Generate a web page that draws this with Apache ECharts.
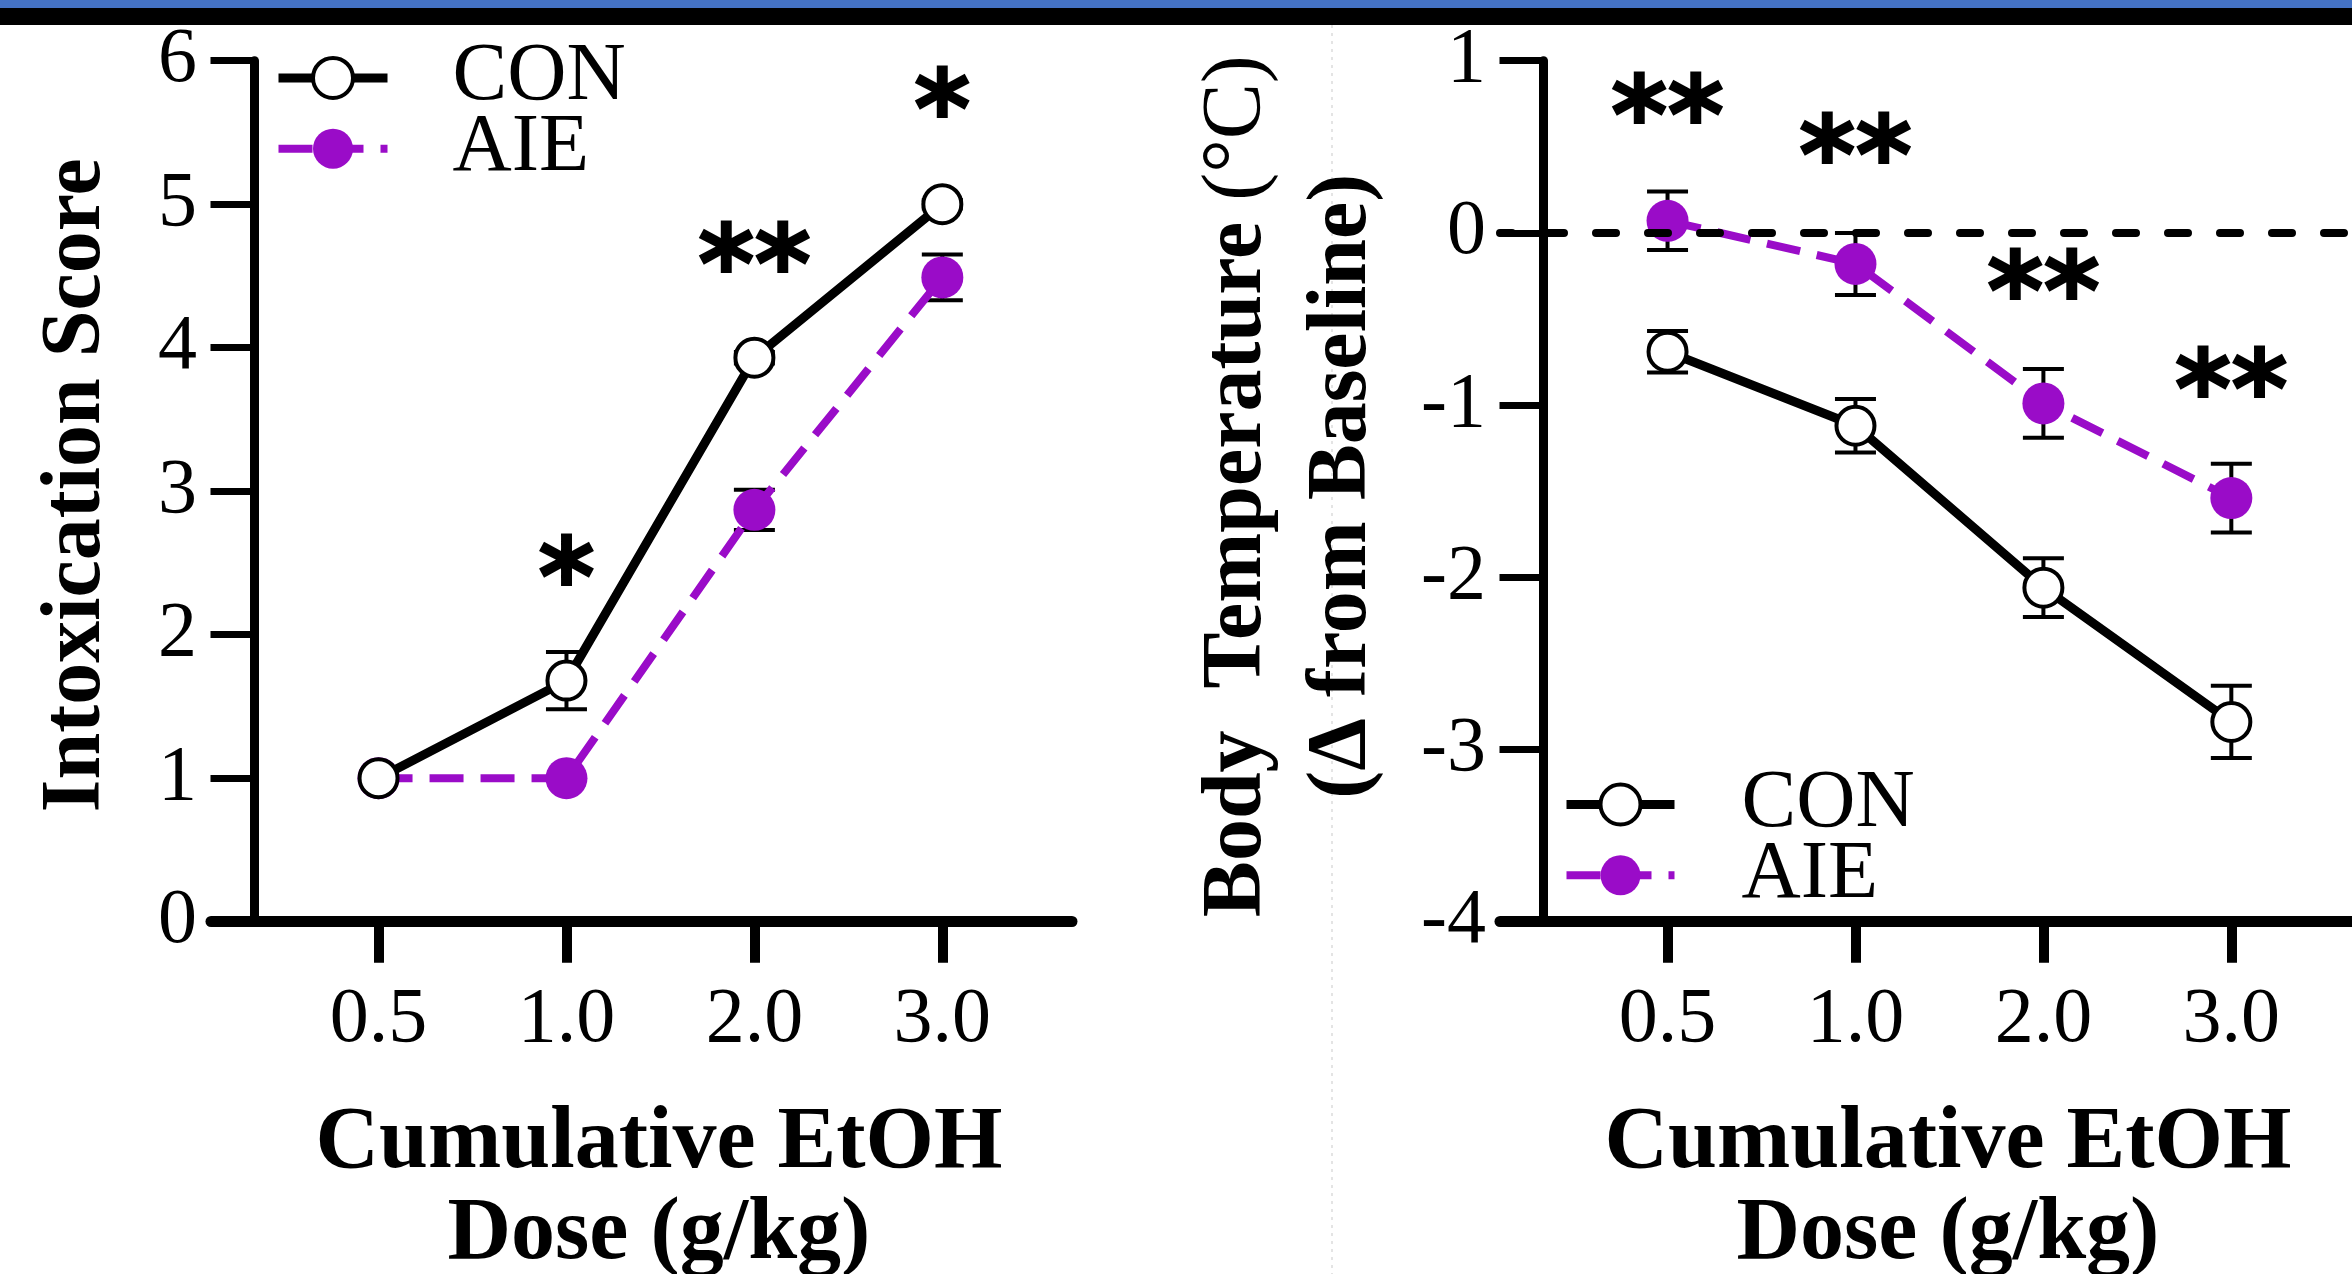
<!DOCTYPE html>
<html><head><meta charset="utf-8">
<script src="https://cdn.jsdelivr.net/npm/echarts@6/dist/echarts.min.js"></script>
<style>html,body{margin:0;padding:0;background:#fff}#c{width:2352px;height:1274px}</style>
</head><body><div id="c"></div>
<script>
// ---- data ----
const doses = ['0.5', '1.0', '2.0', '3.0'];
const intoxCON = [1.0, 1.68, 3.93, 5.0];
const intoxCONerr = [0, 0.2, 0.04, 0.03];
const intoxAIE = [1.0, 1.0, 2.87, 4.49];
const intoxAIEerr = [0, 0, 0.14, 0.16];
const tempCON = [-0.69, -1.12, -2.06, -2.84];
const tempCONerr = [0.12, 0.155, 0.17, 0.21];
const tempAIE = [0.07, -0.18, -0.99, -1.54];
const tempAIEerr = [0.17, 0.18, 0.2, 0.2];
const intoxSig = ['', '*', '**', '*'];
const intoxSigY = [null, 2.51, 4.69, 5.77];
const tempSig = ['**', '**', '**', '**'];
const tempSigY = [0.77, 0.54, -0.25, -0.82];
const groups = ['CON', 'AIE'];

const PURPLE = '#9a0cc8';
const SERIF = 'Liberation Serif';
const chart = echarts.init(document.getElementById('c'), null, {renderer: 'canvas'});

function pts(v) { return v.map((y, i) => [i, y]); }
function errPts(v, e) { return v.map((y, i) => [i, y, e[i]]); }
function errSeries(ai, data) {
  return {
    type: 'custom', xAxisIndex: ai, yAxisIndex: ai, z: 2, silent: true,
    encode: {x: 0, y: 1}, data,
    renderItem(params, api) {
      const x = api.value(0), m = api.value(1), e = api.value(2);
      if (!e) return null;
      const t = api.coord([x, m + e]), b = api.coord([x, m - e]);
      const hw = 20.5, st = {stroke: '#000', lineWidth: 4};
      return {type: 'group', children: [
        {type: 'line', shape: {x1: t[0], y1: t[1], x2: b[0], y2: b[1]}, style: st},
        {type: 'line', shape: {x1: t[0] - hw, y1: t[1], x2: t[0] + hw, y2: t[1]}, style: st},
        {type: 'line', shape: {x1: b[0] - hw, y1: b[1], x2: b[0] + hw, y2: b[1]}, style: st}
      ]};
    }
  };
}
function conSeries(ai, v) {
  return {name: groups[0], type: 'line', xAxisIndex: ai, yAxisIndex: ai, z: 4, data: pts(v),
    symbol: 'circle', symbolSize: 38,
    itemStyle: {color: '#fff', borderColor: '#000', borderWidth: 4},
    lineStyle: {color: '#000', width: 9}};
}
function aieSeries(ai, v) {
  return {name: groups[1], type: 'line', xAxisIndex: ai, yAxisIndex: ai, z: 3, data: pts(v),
    symbol: 'circle', symbolSize: 42,
    itemStyle: {color: PURPLE, borderWidth: 0},
    lineStyle: {color: PURPLE, width: 8, type: [34, 17]}};
}
function sigSeries(ai, labels, ys) {
  const data = [];
  ys.forEach((y, i) => { if (y != null && labels[i]) data.push([i, y, labels[i]]); });
  return {type: 'scatter', xAxisIndex: ai, yAxisIndex: ai, z: 5, silent: true, data,
    symbol: 'circle', symbolSize: 2, itemStyle: {color: 'transparent'},
    label: {show: true, position: 'inside', offset: [0, 25], formatter: p => p.value[2], color: '#000',
      textBorderColor: '#000', textBorderWidth: 2, opacity: 1,
      fontFamily: 'DejaVu Sans', fontWeight: 'bold', fontSize: 108}};
}
function xAxisCfg(gi) {
  return {gridIndex: gi, type: 'value', min: -0.8915, max: 3.69,
    axisLine: {show: true, onZero: false, lineStyle: {color: '#000', width: 11}},
    axisTick: {show: true, customValues: [0, 1, 2, 3], length: 41, lineStyle: {color: '#000', width: 10}},
    axisLabel: {show: true, customValues: [0, 1, 2, 3], formatter: v => doses[Math.round(v)] || '',
      margin: 60, fontFamily: SERIF, fontSize: 78, color: '#000'},
    splitLine: {show: false},
    name: 'Cumulative EtOH\nDose (g/kg)', nameLocation: 'middle', nameGap: 177,
    nameTextStyle: {fontFamily: SERIF, fontWeight: 'bold', fontSize: 88, lineHeight: 91, color: '#000',
      padding: [0, 0, 0, 35]}
  };
}
function yAxisCfg(gi, min, max, name, gap, nts) {
  return {gridIndex: gi, type: 'value', min, max, interval: 1, offset: -43.5,
    axisLine: {show: true, onZero: false, lineStyle: {color: '#000', width: 9}},
    axisTick: {show: true, length: 44, lineStyle: {color: '#000', width: 7}},
    axisLabel: {show: true, margin: 57.5, fontFamily: SERIF, fontSize: 78, color: '#000'},
    splitLine: {show: false},
    name, nameLocation: 'middle', nameGap: gap, nameRotate: 90,
    nameTextStyle: nts
  };
}
function legendCfg(left, top, w, pad) {
  return {data: groups, orient: 'vertical', left, top, padding: 0, itemWidth: w, itemHeight: 50,
    itemGap: -11.2, selectedMode: false,
    lineStyle: {width: 'inherit', type: 'inherit'},
    itemStyle: {borderWidth: 'inherit'},
    textStyle: {fontFamily: SERIF, fontSize: 82, color: '#000', padding: [0, 0, 0, pad]}};
}

const option = {
  animation: false,
  backgroundColor: '#fff',
  grid: [
    {left: 211, top: 60.7, width: 861, height: 861, outerBoundsMode: 'none', containLabel: false},
    {left: 1500, top: 60.7, width: 861, height: 861, outerBoundsMode: 'none', containLabel: false}
  ],
  xAxis: [xAxisCfg(0), xAxisCfg(1)],
  yAxis: [
    yAxisCfg(0, 0, 6, 'Intoxication Score', 135,
      {fontFamily: SERIF, fontWeight: 'bold', fontSize: 84, lineHeight: 84, color: '#000', padding: [0, 0, 0, 12]}),
    yAxisCfg(1, -4, 1, '{b|Body  Temperature }{r|(°C)}\n{b|(Δ from Baseline)}', 148,
      {fontFamily: SERIF, fontSize: 84, lineHeight: 105, color: '#000', padding: [0, 0, 0, 10],
       rich: {b: {fontFamily: SERIF, fontWeight: 'bold', fontSize: 84, lineHeight: 105, color: '#000'},
              r: {fontFamily: SERIF, fontWeight: 'normal', fontSize: 84, lineHeight: 105, color: '#000'}}})
  ],
  legend: [legendCfg(274, 36.9, 109, 60), legendCfg(1562, 763.5, 108, 62)],
  graphic: [
    {type: 'rect', left: 0, top: 0, shape: {width: 2352, height: 8}, style: {fill: '#4472c4'}, silent: true},
    {type: 'rect', left: 0, top: 8, shape: {width: 2352, height: 17}, style: {fill: '#000'}, silent: true},
    {type: 'line', shape: {x1: 1332, y1: 25, x2: 1332, y2: 1274},
      style: {stroke: '#e4e4e4', lineWidth: 2, lineDash: [3, 5]}, silent: true}
  ],
  series: [
    {type: 'line', xAxisIndex: 1, yAxisIndex: 1, data: [], z: 1, silent: true,
      markLine: {silent: true, symbol: ['none', 'none'], label: {show: false},
        lineStyle: {color: '#000', width: 8, type: [20, 32], cap: 'round', dashOffset: 8},
        data: [{yAxis: 0}]}},
    errSeries(0, errPts(intoxCON, intoxCONerr)),
    errSeries(0, errPts(intoxAIE, intoxAIEerr)),
    aieSeries(0, intoxAIE),
    conSeries(0, intoxCON),
    sigSeries(0, intoxSig, intoxSigY),
    errSeries(1, errPts(tempCON, tempCONerr)),
    errSeries(1, errPts(tempAIE, tempAIEerr)),
    aieSeries(1, tempAIE),
    conSeries(1, tempCON),
    sigSeries(1, tempSig, tempSigY)
  ]
};
chart.setOption(option);
</script></body></html>
